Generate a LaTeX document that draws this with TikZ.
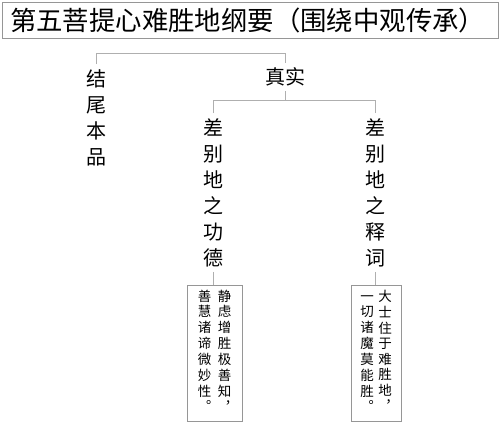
\documentclass[tikz,border=0pt]{standalone}
\usepackage{fontspec}
\setmainfont{Noto Sans CJK SC}
\usetikzlibrary{positioning}
\definecolor{OutlineGray}{RGB}{150,150,150}
\definecolor{LinkGray}{RGB}{175,175,175}
\tikzset{
  titlebox/.style={draw=OutlineGray, line width=1pt, text width=480pt, inner xsep=8pt,
                   minimum height=36pt, align=left, font=\fontsize{26.4}{30}\selectfont},
  vlabel/.style={align=center, inner sep=5pt, font=\fontsize{20}{26}\selectfont},
  notebox/.style={draw=OutlineGray, line width=0.8pt, minimum height=136pt, inner sep=0pt,
                  font=\fontsize{13.5}{15}\selectfont},
  link/.style={draw=LinkGray, line width=1pt}
}
\newcommand{\vcol}[1]{\begin{tabular}[t]{@{}c@{}}#1\end{tabular}}

\begin{document}
\begin{tikzpicture}[x=1pt, y=-1pt]
  \useasboundingbox (0,0) rectangle (500,431);

  % title
  \node[titlebox] (title) at (250,20) {第五菩提心难胜地纲要（围绕中观传承）};

  % first level
  \node[vlabel] (jiewei) at (96,117.5) {结\\尾\\本\\品};
  \node[vlabel] (zhenshi) at (285,77) {真实};

  % second level
  \node[vlabel] (gongde) at (213,192.5) {差\\别\\地\\之\\功\\德};
  \node[vlabel] (shici) at (375,192.5) {差\\别\\地\\之\\释\\词};

  % verse boxes
  \node[notebox, minimum width=55pt, below=13pt of gongde, xshift=1.5pt] (gdbox)
    {\raisebox{-2pt}{\vcol{善\\慧\\诸\\谛\\微\\妙\\性\\︒}\hspace{6.5pt}\vcol{静\\虑\\增\\胜\\极\\善\\知\\︐}}};
  \node[notebox, minimum width=50pt, below=13pt of shici, xshift=1pt] (scbox)
    {\raisebox{-2pt}{\vcol{一\\切\\诸\\魔\\莫\\能\\胜\\︒}\hspace{4.5pt}\vcol{大\\士\\住\\于\\难\\胜\\地\\︐}}};

  % connectors
  \coordinate (topbar) at (0,53);
  \coordinate (midbar) at (0,100);
  \draw[link] (jiewei.north) -- (jiewei.north |- topbar) -- (zhenshi.north |- topbar) -- (zhenshi.north);
  \draw[link] (zhenshi.south) -- (zhenshi.south |- midbar);
  \draw[link] (gongde.north) -- (gongde.north |- midbar) -- (shici.north |- midbar) -- (shici.north);
  \draw[link] (gongde.south) -- (gongde.south |- gdbox.north);
  \draw[link] (shici.south) -- (shici.south |- scbox.north);
\end{tikzpicture}
\end{document}
